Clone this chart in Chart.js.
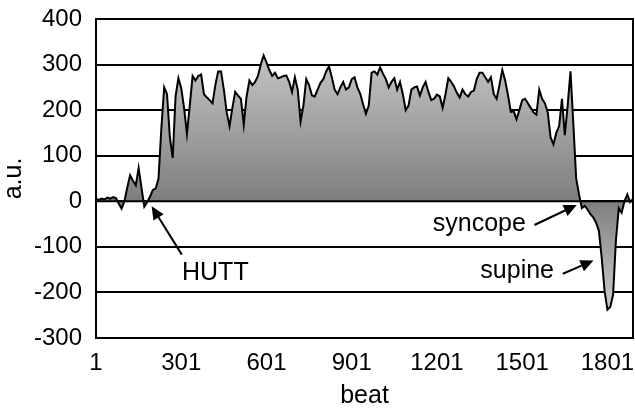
<!DOCTYPE html>
<html>
<head>
<meta charset="utf-8">
<title>beat</title>
<script src="https://cdn.jsdelivr.net/npm/chart.js@4.4.1/dist/chart.umd.min.js"></script>
<style>
    html, body { margin: 0; padding: 0; background: #fff; }
</style>
</head>
<body>
<canvas id="beatChart" width="635" height="409"></canvas>
<script>
// One value every 10 beats, starting at beat 1
const step = 10;
const values = [
    5, 3, 6, 4, 8, 6, 9, 7, -5, -16,
    0, 30, 57, 45, 35, 73, 30, -12, -2, 10,
    25, 28, 50, 160, 250, 235, 140, 95, 230, 270,
    248, 205, 148, 210, 275, 265, 275, 278, 235, 228,
    222, 215, 255, 285, 285, 245, 195, 165, 205, 240,
    232, 225, 168, 230, 265, 255, 262, 275, 300, 320,
    305, 288, 275, 282, 270, 272, 275, 276, 262, 240,
    272, 245, 175, 210, 268, 255, 232, 230, 245, 260,
    268, 285, 296, 272, 245, 235, 250, 262, 245, 250,
    268, 272, 250, 236, 213, 192, 210, 282, 285, 278,
    294, 280, 268, 250, 262, 270, 245, 262, 235, 200,
    210, 245, 250, 252, 232, 250, 262, 240, 222, 225,
    234, 230, 205, 235, 270, 262, 252, 238, 228, 245,
    235, 230, 240, 243, 268, 282, 282, 272, 262, 272,
    235, 225, 255, 288, 265, 233, 196, 198, 180, 200,
    222, 225, 215, 205, 195, 190, 245, 225, 215, 195,
    140, 125, 150, 165, 225, 145, 210, 285, 170, 50,
    15, -15, -10, -18, -28, -35, -47, -65, -125, -197,
    -238, -232, -205, -85, -15, -25, 0, 15, -2, 5
];
const beats = values.map((v, i) => 1 + i * step);
const tickLabels = ['1', '301', '601', '901', '1201', '1501', '1801'];

// annotations: text, where the text sits (beat, value), arrow tail and tip
const notes = ['HUTT', 'syncope', 'supine'];
const noteAt = [[421, -172], [1514, -65], [1613, -168]];
const noteAlign = ['center', 'right', 'right'];
const arrowFrom = [[303, -117], [1544, -52], [1644, -159]];
const arrowTo = [[197, -11], [1693, -8], [1752, -130]];

const FONT = 'Arial, "Liberation Sans", sans-serif';

function drawArrow(ctx, x1, y1, x2, y2) {
    const ang = Math.atan2(y2 - y1, x2 - x1);
    const len = 13, half = 6;
    const bx = x2 - len * Math.cos(ang), by = y2 - len * Math.sin(ang);
    ctx.beginPath();
    ctx.moveTo(x1, y1);
    ctx.lineTo(bx, by);
    ctx.stroke();
    ctx.beginPath();
    ctx.moveTo(x2, y2);
    ctx.lineTo(bx + half * Math.sin(ang), by - half * Math.cos(ang));
    ctx.lineTo(bx - half * Math.sin(ang), by + half * Math.cos(ang));
    ctx.closePath();
    ctx.fill();
}

const overlay = {
    id: 'overlay',
    afterDatasetsDraw(chart) {
        const { ctx, chartArea: a, scales: { x, y } } = chart;
        const px = b => x.getPixelForValue((b - 1) / step);
        ctx.save();
        ctx.strokeStyle = '#000';
        ctx.fillStyle = '#000';
        ctx.lineWidth = 2;

        // zero axis line sits on top of the area
        const y0 = y.getPixelForValue(0);
        ctx.beginPath();
        ctx.moveTo(a.left, y0);
        ctx.lineTo(a.right, y0);
        ctx.stroke();
        ctx.strokeRect(a.left, a.top, a.right - a.left, a.bottom - a.top);

        ctx.font = '25px ' + FONT;
        ctx.textBaseline = 'alphabetic';
        notes.forEach((t, i) => {
            ctx.textAlign = noteAlign[i];
            ctx.fillText(t, px(noteAt[i][0]), y.getPixelForValue(noteAt[i][1]));
            drawArrow(ctx,
                px(arrowFrom[i][0]), y.getPixelForValue(arrowFrom[i][1]),
                px(arrowTo[i][0]), y.getPixelForValue(arrowTo[i][1]));
        });
        ctx.restore();
    }
};

function areaFill(context) {
    const chart = context.chart;
    const { chartArea, scales } = chart;
    if (!chartArea) return '#999';
    const yTop = scales.y.getPixelForValue(Math.max(...values));
    const yBot = scales.y.getPixelForValue(Math.min(...values));
    const y0 = scales.y.getPixelForValue(0);
    const g = chart.ctx.createLinearGradient(0, yTop, 0, yBot);
    g.addColorStop(0, '#c4c4c4');
    g.addColorStop((y0 - yTop) / (yBot - yTop), '#7e7e7e');
    g.addColorStop(1, '#cccccc');
    return g;
}

const ctx = document.getElementById('beatChart').getContext('2d');
const beatChart = new Chart(ctx, {
    type: 'line',
    data: {
        labels: beats,
        datasets: [{
            data: values,
            borderColor: '#000',
            borderWidth: 2,
            backgroundColor: areaFill,
            fill: 'origin',
            tension: 0,
            pointRadius: 0
        }]
    },
    options: {
        responsive: false,
        animation: false,
        devicePixelRatio: 1,
        layout: { padding: { top: 19, right: 2, left: 0, bottom: 0 } },
        plugins: {
            legend: { display: false },
            tooltip: { enabled: false }
        },
        scales: {
            x: {
                type: 'category',
                offset: false,
                grid: { display: false, drawTicks: false },
                border: { display: false },
                ticks: {
                    autoSkip: false,
                    maxRotation: 0,
                    minRotation: 0,
                    padding: 11,
                    color: '#000',
                    font: { family: FONT, size: 24 },
                    callback: function(val) {
                        const lbl = String(this.getLabelForValue(val));
                        return tickLabels.includes(lbl) ? lbl : null;
                    }
                },
                title: {
                    display: true,
                    text: 'beat',
                    color: '#000',
                    padding: 0,
                    font: { family: FONT, size: 25, lineHeight: 1 }
                },
                afterFit(scale) {
                    scale.height = 71;
                    scale.paddingLeft = 0;
                    scale.paddingRight = 0;
                }
            },
            y: {
                min: -300,
                max: 400,
                grid: { color: '#000', lineWidth: 2, drawTicks: false },
                border: { display: false },
                ticks: {
                    stepSize: 100,
                    padding: 14,
                    color: '#000',
                    font: { family: FONT, size: 24 }
                },
                title: {
                    display: true,
                    text: 'a.u.',
                    color: '#000',
                    padding: { top: 2, bottom: 0 },
                    font: { family: FONT, size: 25, lineHeight: 1 }
                },
                afterFit(scale) {
                    scale.width = 96;
                    scale.paddingTop = 0;
                    scale.paddingBottom = 0;
                }
            }
        }
    },
    plugins: [overlay]
});
</script>
</body>
</html>
